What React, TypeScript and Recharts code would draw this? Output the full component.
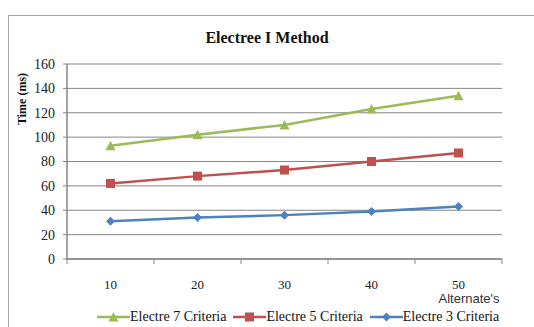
import { LineChart, Line, XAxis, YAxis, CartesianGrid, Legend } from 'recharts';

const alternates = [10, 20, 30, 40, 50];
const electre7 = [93, 102, 110, 123, 134];
const electre5 = [62, 68, 73, 80, 87];
const electre3 = [31, 34, 36, 39, 43];
const yTicks = [0, 20, 40, 60, 80, 100, 120, 140, 160];

const GREEN = '#9bbb59';
const RED = '#c0504d';
const BLUE = '#4f81bd';
const SERIF = '"Liberation Serif", "DejaVu Serif", serif';

const data = alternates.map((a, i) => ({
  alt: a,
  e7: electre7[i],
  e5: electre5[i],
  e3: electre3[i],
}));

// category boundaries for the small tick marks under the axis
const step = alternates[1] - alternates[0];
const xTicks = [...alternates.map((a) => a - step / 2), alternates[alternates.length - 1] + step / 2, ...alternates].sort(
  (a, b) => a - b,
);

type MarkerKind = 'triangle' | 'square' | 'diamond';

function Marker({ kind, cx, cy, color }: { kind: MarkerKind; cx: number; cy: number; color: string }) {
  const r = 4.5;
  if (kind === 'triangle') {
    return <polygon points={`${cx},${cy - r - 0.5} ${cx + r + 0.5},${cy + r} ${cx - r - 0.5},${cy + r}`} fill={color} />;
  }
  if (kind === 'square') {
    return <rect x={cx - r} y={cy - r} width={r * 2} height={r * 2} fill={color} />;
  }
  return <polygon points={`${cx},${cy - r} ${cx + r},${cy} ${cx},${cy + r} ${cx - r},${cy}`} fill={color} />;
}

const dotFor = (kind: MarkerKind, color: string) => (props: any) =>
  <Marker key={`${kind}-${props.index}`} kind={kind} cx={props.cx} cy={props.cy} color={color} />;

function XTick(props: any) {
  const { x, y, payload } = props;
  const v = payload.value as number;
  if (!alternates.includes(v)) {
    return <line x1={x} x2={x} y1={y - 21} y2={y - 16} stroke="#868686" strokeWidth={1} />;
  }
  return (
    <text x={x} y={y} dy="0.71em" textAnchor="middle" fontFamily={SERIF} fontSize={13} fill="#222">
      {v}
    </text>
  );
}

const legendItems: { name: string; color: string; kind: MarkerKind }[] = [
  { name: 'Electre 7 Criteria', color: GREEN, kind: 'triangle' },
  { name: 'Electre 5 Criteria', color: RED, kind: 'square' },
  { name: 'Electre 3 Criteria', color: BLUE, kind: 'diamond' },
];

function LegendContent() {
  return (
    <div style={{ display: 'flex', paddingLeft: 97, whiteSpace: 'nowrap', alignItems: 'center', height: 20 }}>
      {legendItems.map((it) => (
        <div key={it.name} style={{ display: 'flex', alignItems: 'center', marginRight: 7 }}>
          <svg width={33} height={12}>
            <line x1={0} x2={33} y1={6} y2={6} stroke={it.color} strokeWidth={2.5} />
            <Marker kind={it.kind} cx={16.5} cy={6} color={it.color} />
          </svg>
          <span style={{ fontFamily: SERIF, fontSize: 14, color: '#111' }}>{it.name}</span>
        </div>
      ))}
    </div>
  );
}

export default function App() {
  return (
    <div style={{ position: 'absolute', left: 0, top: 0, width: 534, height: 327, background: '#fff' }}>
      <div
        style={{
          position: 'absolute',
          left: 8,
          top: 15,
          right: 0,
          bottom: 0,
          borderTop: '1.5px solid #a6a6a6',
          borderLeft: '1.5px solid #a6a6a6',
        }}
      />
      <LineChart
        width={534}
        height={327}
        data={data}
        margin={{ top: 64, right: 32, bottom: 0, left: 0 }}
        style={{ position: 'absolute', left: 0, top: 0 }}
      >
        <text x={267} y={43} textAnchor="middle" fontFamily={SERIF} fontWeight="bold" fontSize={16} fill="#111">
          Electree I Method
        </text>
        <text
          x={26}
          y={99}
          transform="rotate(-90 26 99)"
          textAnchor="middle"
          fontFamily={SERIF}
          fontWeight="bold"
          fontSize={12}
          fill="#111"
        >
          Time (ms)
        </text>
        <text x={469} y={303} textAnchor="middle" fontFamily='"Liberation Sans", Arial, sans-serif' fontSize={13} fill="#333">
          Alternate's
        </text>
        <CartesianGrid horizontal vertical={false} stroke="#868686" strokeWidth={1} />
        <XAxis
          dataKey="alt"
          type="number"
          domain={[alternates[0] - step / 2, alternates[alternates.length - 1] + step / 2]}
          ticks={xTicks}
          interval={0}
          tick={<XTick />}
          tickLine={false}
          tickSize={6}
          tickMargin={15}
          axisLine={{ stroke: '#868686', strokeWidth: 1.5 }}
          height={48}
        />
        <YAxis
          domain={[0, 160]}
          ticks={yTicks}
          width={67}
          tickSize={4}
          tickMargin={8}
          tickLine={{ stroke: '#868686' }}
          axisLine={{ stroke: '#868686', strokeWidth: 1.5 }}
          tick={{ fontFamily: SERIF, fontSize: 14, fill: '#222' }}
        />
        <Legend verticalAlign="bottom" height={20} content={<LegendContent />} />
        <Line dataKey="e7" name="Electre 7 Criteria" stroke={GREEN} strokeWidth={2.5} dot={dotFor('triangle', GREEN)} isAnimationActive={false} />
        <Line dataKey="e5" name="Electre 5 Criteria" stroke={RED} strokeWidth={2.5} dot={dotFor('square', RED)} isAnimationActive={false} />
        <Line dataKey="e3" name="Electre 3 Criteria" stroke={BLUE} strokeWidth={2.5} dot={dotFor('diamond', BLUE)} isAnimationActive={false} />
      </LineChart>
    </div>
  );
}
